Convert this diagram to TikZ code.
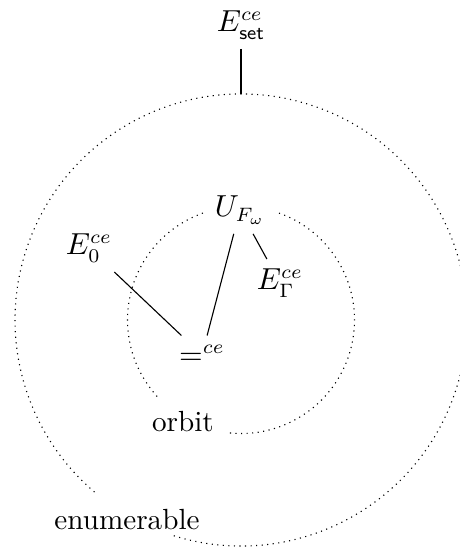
\documentclass[tikz,border=0pt]{standalone}
\begin{document}
\begin{tikzpicture}[x=0.36pt,y=0.36pt,
  lbl/.style={font=\fontsize{10.5}{12.6}\selectfont},
  dotline/.style={line width=0.4pt,dash pattern=on 0.4pt off 1.6pt},
  link/.style={line width=0.4pt}]
\useasboundingbox (0,0) rectangle (460,550);
\coordinate (c) at (241,230);
\coordinate (top) at (241,456);
% outer circle (enumerable)
\draw[dotline] (c) ++(252.7:226) arc[start angle=252.7,end angle=590.5,radius=226];
% inner circle (orbit)
\draw[dotline] (c) ++(109.6:113.5) arc[start angle=109.6,end angle=222.5,radius=113.5];
\draw[dotline] (c) ++(264.4:113.5) arc[start angle=264.4,end angle=431.4,radius=113.5];
% nodes
\node[lbl] (eset) at (241,525) {$E^{ce}_{\mathsf{set}}$};
\node[lbl] (u) at (240,340) {$U_{F_\omega}$};
\node[lbl] (e0) at (89,302) {$E^{ce}_0$};
\node[lbl] (eg) at (280,267) {$E^{ce}_\Gamma$};
\node[lbl] (eq) at (202,195) {$=^{ce}$};
\node[lbl] (orbit) at (183,128) {orbit};
\node[lbl] (enum) at (127,30) {enumerable};
% connectors
\draw[link] (eset) -- (top);
\draw[link] (e0) -- (eq);
\draw[link] (u) -- (eq);
\draw[link] (u) -- (eg);
\end{tikzpicture}
\end{document}
